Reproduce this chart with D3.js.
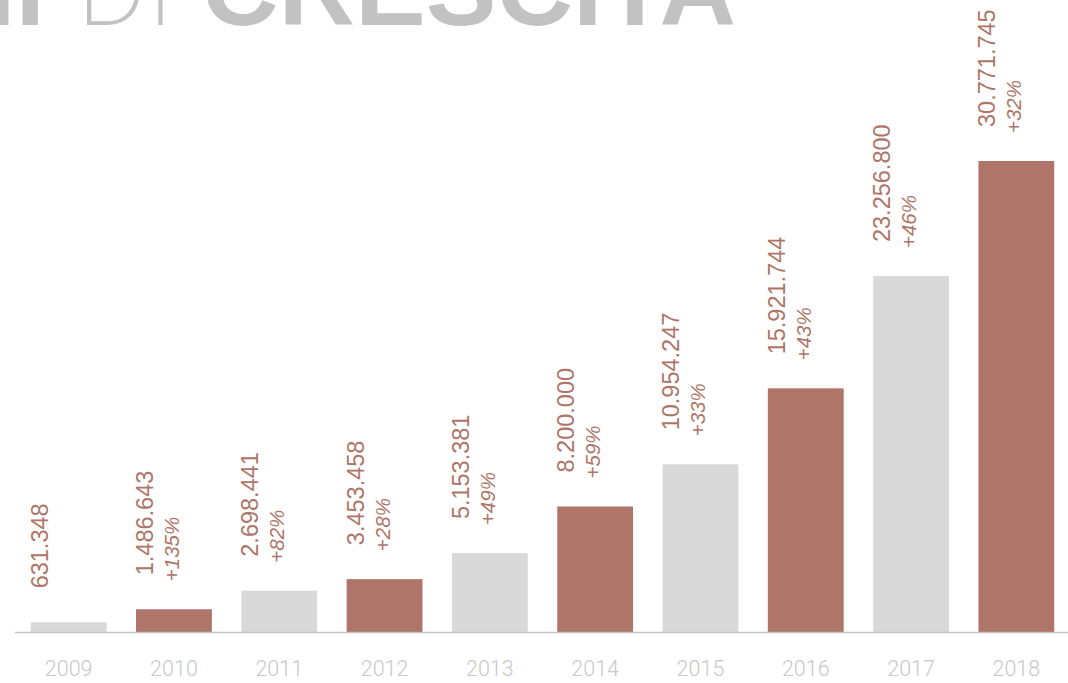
<!DOCTYPE html>
<html>
<head>
<meta charset="utf-8">
<script src="https://cdn.jsdelivr.net/npm/d3@7"></script>
<style>
  html, body { margin: 0; padding: 0; background: #fff; }
  svg { display: block; }
</style>
</head>
<body>
<div id="chart"></div>
<script>
// Data
const years = ['2009', '2010', '2011', '2012', '2013', '2014', '2015', '2016', '2017', '2018'];
const values = [631348, 1486643, 2698441, 3453458, 5153381, 8200000, 10954247, 15921744, 23256800, 30771745];
const growth = [null, 135, 82, 28, 49, 59, 33, 43, 46, 32];
const highlighted = ['2010', '2012', '2014', '2016', '2018'];

const width = 1068;
const height = 683;
const baseline = 632;

const brown = '#ae7568';
const lightGray = '#d9d9d9';

const svg = d3.select('#chart').append('svg')
  .attr('width', width)
  .attr('height', height);

// Title (cropped at the top of the picture, as in the original)
const title = svg.append('g').attr('fill', '#c2c2c2');
title.append('text')
  .attr('x', 45).attr('y', 25)
  .attr('text-anchor', 'end')
  .attr('font-family', "'Liberation Sans', Arial, sans-serif")
  .attr('font-weight', 'bold')
  .attr('font-size', 106)
  .text('10 ANNI');
title.append('text')
  .attr('x', 77).attr('y', 25)
  .attr('font-family', "Roboto, 'Open Sans', Lato, sans-serif")
  .attr('font-weight', 200)
  .attr('font-size', 106)
  .text('DI');
title.append('text')
  .attr('x', 202).attr('y', 25)
  .attr('font-family', "'Liberation Sans', Arial, sans-serif")
  .attr('font-weight', 'bold')
  .attr('font-size', 106)
  .text('CRESCITA');

// Scales
const x = d3.scaleBand()
  .domain(years)
  .range([16, 1069])
  .paddingInner(0.28)
  .paddingOuter(0.14);

const y = d3.scaleLinear()
  .domain([0, d3.max(values)])
  .range([baseline, 161]);

const data = years.map((year, i) => ({ year, value: values[i], growth: growth[i] }));

// Bars
svg.append('g')
  .selectAll('rect')
  .data(data)
  .join('rect')
  .attr('x', d => x(d.year))
  .attr('y', d => y(d.value))
  .attr('width', x.bandwidth())
  .attr('height', d => baseline - y(d.value))
  .attr('fill', d => highlighted.includes(d.year) ? brown : lightGray);

// Axis line
svg.append('line')
  .attr('x1', 15).attr('x2', width)
  .attr('y1', baseline + 0.5).attr('y2', baseline + 0.5)
  .attr('stroke', '#c4c4c4')
  .attr('stroke-width', 1.5);

// Year labels
const xAxis = d3.axisBottom(x).tickSize(0).tickPadding(0);
const axisG = svg.append('g')
  .attr('transform', `translate(0, ${baseline})`)
  .call(xAxis);
axisG.select('.domain').remove();
axisG.selectAll('text')
  .attr('dy', null)
  .attr('y', 44)
  .attr('fill', '#c8c8c8')
  .attr('font-family', "Roboto, 'Open Sans', 'Liberation Sans', sans-serif")
  .attr('font-weight', 300)
  .attr('font-size', 21.5);

// Value labels (rotated), Italian thousands separator
const fmt = d3.formatLocale({ decimal: ',', thousands: '.', grouping: [3], currency: ['€', ''] }).format(',d');

const labels = svg.append('g').attr('fill', brown);

labels.selectAll('text.value')
  .data(data)
  .join('text')
  .attr('class', 'value')
  .attr('transform', d => `translate(${x(d.year) + x.bandwidth() / 2 - 21}, ${y(d.value) - 34}) rotate(-90)`)
  .attr('font-family', "'Liberation Sans', Arial, sans-serif")
  .attr('font-size', 23.5)
  .text(d => fmt(d.value));

labels.selectAll('text.growth')
  .data(data.filter(d => d.growth !== null))
  .join('text')
  .attr('class', 'growth')
  .attr('transform', d => `translate(${x(d.year) + x.bandwidth() / 2 + 5}, ${y(d.value) - 28}) rotate(-90)`)
  .attr('font-family', "'Liberation Sans', Arial, sans-serif")
  .attr('font-style', 'italic')
  .attr('font-size', 20.5)
  .text(d => `+${d.growth}%`);
</script>
</body>
</html>
